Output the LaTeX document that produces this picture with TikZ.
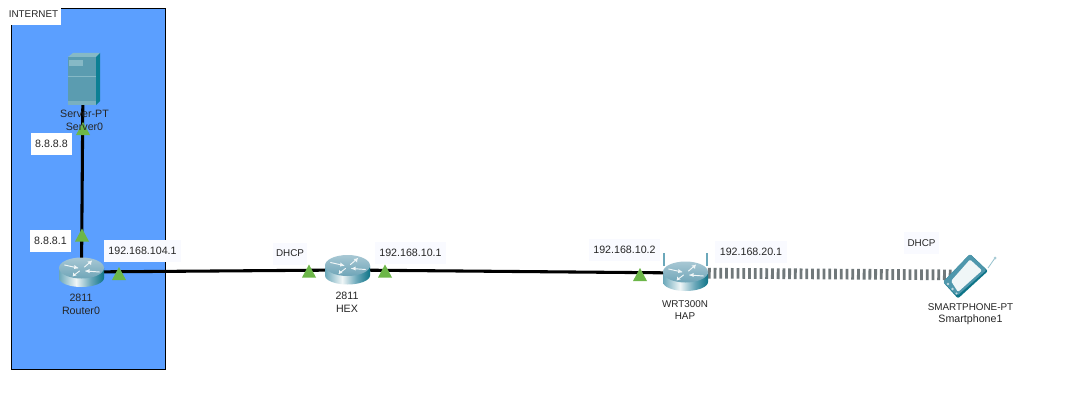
\documentclass[tikz,border=0pt]{standalone}
\usepackage{fontspec}
\setmainfont{Liberation Sans}
\definecolor{zone}{HTML}{5B9FFF}
\definecolor{lblbg}{HTML}{F9FAFF}
\definecolor{tri}{HTML}{6CB648}
\definecolor{rtop}{HTML}{A8C8D4}
\definecolor{rtopb}{HTML}{6FA5B8}
\definecolor{rdark}{HTML}{0E7487}
\definecolor{rmid}{HTML}{6BA8BA}
\definecolor{rlight}{HTML}{F0F6F7}
\definecolor{srv}{HTML}{5B9CB0}
\definecolor{srvlight}{HTML}{86B9C6}
\definecolor{srvdark}{HTML}{0C7F94}
\definecolor{wave}{HTML}{70787A}
\definecolor{phoneb}{HTML}{4F97AC}
\pgfdeclarehorizontalshading{routerbody}{100bp}{
  color(0bp)=(rmid); color(25bp)=(rmid); color(44bp)=(rlight);
  color(60bp)=(rmid); color(75bp)=(rdark); color(100bp)=(rdark)}
\tikzset{
  every node/.style={font=\fontsize{8}{9.5}\selectfont, text=black!85, inner sep=0pt},
  capsfont/.style={font=\fontsize{7.4}{9.5}\selectfont},
  devnode/.style={minimum width=30pt, minimum height=20pt},
  iplabel/.style={fill=lblbg, inner sep=0pt, minimum height=16.5pt},
  whitelabel/.style={fill=white, inner sep=0pt, minimum height=16.5pt},
  devtext/.style={align=center},
  link/.style={draw=black, line width=2.3pt},
  wireless/.style={draw=wave, line width=8pt, dash pattern=on 2.1pt off 2.2pt},
  port/.style={fill=tri, draw=none},
  pics/routericon/.style={code={
    \path[shade, shading=routerbody]
      (-22.5,-3) -- (-22.5,7) arc[start angle=180, end angle=0, x radius=22.5, y radius=9]
      -- (22.5,-3) arc[start angle=0, end angle=180, x radius=22.5, y radius=9] -- cycle;
    \path[shade, top color=rtop, bottom color=rtopb] (0,-3) ellipse [x radius=22.5, y radius=10.5];
    \draw[rlight, line width=0.7pt, line cap=round]
      (-17,-6) -- (-3.5,-3) (-8.5,5) -- (-2,0) (4,0) -- (18,1) (3,-4) -- (10,-10);
    \fill[rlight] (-3.5,-3) -- (-7,-6) -- (-7.5,-2) -- cycle;
    \fill[rlight] (4,0) -- (8,-2) -- (8,2) -- cycle;
    \fill[rlight] (-8.5,5) -- (-8.5,1.5) -- (-5,4.5) -- cycle;
    \fill[rlight] (10,-10) -- (6,-9.5) -- (9.5,-6) -- cycle;
  }},
}
\newcommand{\porttri}[2]{\path[port] (#1-7,#2+6.5) -- (#1,#2-6.5) -- (#1+7,#2+6.5) -- cycle;}
\begin{document}
\begin{tikzpicture}[x=0.75pt,y=-0.75pt]
\useasboundingbox (0,0) rectangle (1074,410);
\fill[white] (0,0) rectangle (1074,410);
% zone
\node[draw=black, line width=0.75pt, fill=zone, minimum width=115.5pt, minimum height=270.75pt] (zonebox) at (88.5,189) {};
\node[whitelabel, capsfont, minimum width=41pt] (internetlbl) at (33.5,14) {INTERNET};
% invisible device anchors
\node[devnode] (server) at (83,81) {};
\node[devnode] (router0) at (81.5,272) {};
\node[devnode] (hex) at (347,270) {};
\node[devnode] (hap) at (685,273) {};
\node[devnode] (phone) at (965,275) {};
% connectors
\draw[link] (server.center) -- (router0.center);
\draw[link] (router0.center) -- (hex.center);
\draw[link] (hex.center) -- (hap.center);
\draw[wireless] (hap.center) -- (phone.center);
% server icon
\fill[srvlight] (68,57) -- (73,53) -- (100,53) -- (96,57) -- cycle;
\fill[srvdark] (96,57) -- (100,53) -- (100,101) -- (96,105) -- cycle;
\fill[srv] (68,57) rectangle (96,105);
\fill[srvlight!70!srv] (68,101) rectangle (96,105);
\fill[srvlight] (69,60) rectangle (83,66);
\draw[srvlight, line width=0.4pt] (68,76) -- (96,76);
% routers
\pic at (81.5,271) {routericon};
\pic at (347.5,268.5) {routericon};
% HAP antennas + body
\draw[rmid, line width=1.3pt] (664,266) -- (664,253) (707,266) -- (707,253);
\pic at (685.5,275) {routericon};
% phone
\draw[phoneb!60!white, line width=0.6pt] (988,268) -- (995,258);
\fill[phoneb!50!white] (995,258) circle [radius=1.5];
\fill[rdark, rounded corners=1.5pt] (970,254) -- (988,271) -- (958,298.5) -- (943,282) -- cycle;
\fill[phoneb, rounded corners=1.5pt] (970,254) -- (986.5,270) -- (957,296) -- (943,282) -- cycle;
\fill[rlight, rounded corners=1pt] (970,259.5) -- (982,270.5) -- (958,292) -- (951,281) -- cycle;
\fill[rlight!70!phoneb] (948,284) circle [radius=1.4] (952.5,289) circle [radius=1.4] (956.5,293.5) circle [radius=1.2];
% port triangles
\porttri{83}{128.5}
\porttri{82}{235}
\porttri{119}{273.5}
\porttri{309}{271}
\porttri{385}{271}
\porttri{640}{274.5}
% device labels
\node[devtext] (serverlbl) at (84.5,120.5) {Server-PT\\Server0};
\node[devtext] (router0lbl) at (81,304) {2811\\Router0};
\node[devtext] (hexlbl) at (347,302) {2811\\HEX};
\node[devtext, capsfont] (haplbl) at (685,310) {WRT300N\\HAP};
\node[devtext, capsfont] (phonelbl) at (970.5,314) {SMARTPHONE-PT\\{\fontsize{8}{9.5}\selectfont Smartphone1}};
% address labels
\node[whitelabel, minimum width=30.75pt] (ipa) at (51.5,144) {8.8.8.8};
\node[whitelabel, minimum width=30.75pt] (ipb) at (50.5,241) {8.8.8.1};
\node[iplabel, minimum width=57.75pt] (ipc) at (142.5,251) {192.168.104.1};
\node[iplabel, capsfont, minimum width=25.5pt] (ipd) at (290,253.5) {DHCP};
\node[iplabel, minimum width=53.25pt] (ipe) at (410.5,252.5) {192.168.10.1};
\node[iplabel, minimum width=53.25pt] (ipf) at (624.5,250) {192.168.10.2};
\node[iplabel, minimum width=54pt] (ipg) at (751,251.5) {192.168.20.1};
\node[iplabel, capsfont, minimum width=26.25pt] (iph) at (921.5,243) {DHCP};
\end{tikzpicture}
\end{document}
